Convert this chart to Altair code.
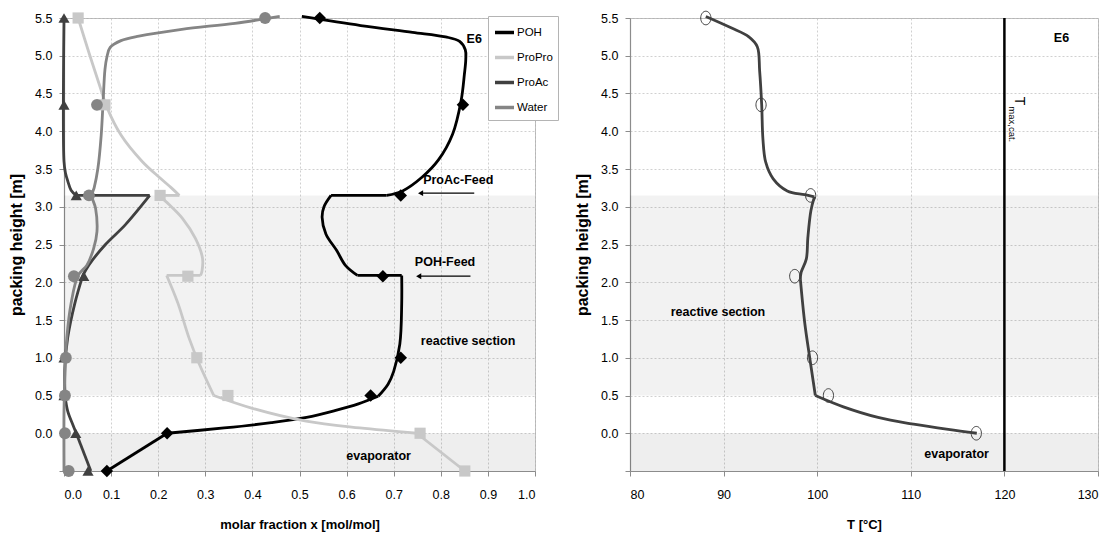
import altair as alt
import pandas as pd

# ------------------------------------------------------------------ data
SPECIES = ["POH", "ProPro", "ProAc", "Water"]
COLORS = ["#000000", "#c8c8c8", "#404040", "#858585"]
SHAPES = ["diamond", "square", "triangle-up", "circle"]
MSIZES = [155, 125, 125, 140]

# measured compositions (markers)
meas_h = [5.5, 4.35, 3.15, 2.08, 1.0, 0.5, 0.0, -0.5]
poh_meas = [0.543, 0.847, 0.715, 0.677, 0.715, 0.651, 0.219, 0.091]
propro_meas = [0.030, 0.087, 0.204, 0.263, 0.282, 0.348, 0.756, 0.851]
proac_meas = [0.0, 0.0, 0.026, 0.042, 0.0, 0.0, 0.025, 0.051]
water_meas = [0.427, 0.070, 0.053, 0.021, 0.004, 0.002, 0.002, 0.010]

# simulated profiles (segments)
poh_sim_x = [
    [0.505, 0.63, 0.74, 0.81, 0.84, 0.852, 0.853, 0.850, 0.843, 0.825, 0.795, 0.760, 0.719, 0.685],
    [0.685, 0.567],
    [0.567, 0.552, 0.548, 0.556, 0.579, 0.598, 0.623],
    [0.623, 0.717],
    [0.717, 0.717, 0.713, 0.700, 0.688, 0.667],
    [0.667, 0.625, 0.575, 0.515, 0.440, 0.340, 0.219],
    [0.219, 0.091],
]
poh_sim_h = [
    [5.52, 5.40, 5.31, 5.25, 5.19, 5.08, 4.95, 4.75, 4.40, 3.96, 3.62, 3.39, 3.21, 3.15],
    [3.15, 3.15],
    [3.15, 3.0, 2.86, 2.64, 2.42, 2.22, 2.09],
    [2.09, 2.09],
    [2.09, 1.72, 1.18, 0.82, 0.65, 0.49],
    [0.49, 0.39, 0.30, 0.21, 0.14, 0.07, 0.0],
    [0.0, -0.5],
]
propro_sim_x = [
    [0.030, 0.053, 0.076, 0.091, 0.121, 0.166, 0.204, 0.228, 0.245],
    [0.245, 0.201],
    [0.201, 0.223, 0.251, 0.279, 0.294, 0.293, 0.290],
    [0.290, 0.218],
    [0.218, 0.242, 0.265, 0.287, 0.318],
    [0.318, 0.400, 0.514, 0.628, 0.749],
    [0.749, 0.851],
]
propro_sim_h = [
    [5.5, 5.04, 4.6, 4.32, 3.95, 3.6, 3.38, 3.25, 3.15],
    [3.15, 3.15],
    [3.15, 3.03, 2.85, 2.58, 2.32, 2.15, 2.09],
    [2.09, 2.09],
    [2.09, 1.72, 1.27, 0.92, 0.50],
    [0.50, 0.33, 0.16, 0.07, 0.0],
    [0.0, -0.5],
]
proac_sim_x = [
    [0.0, 0.0, 0.003, 0.008, 0.015, 0.026],
    [0.026, 0.182],
    [0.182, 0.130, 0.088, 0.053, 0.040],
    [0.040, 0.023, 0.008, 0.002, 0.002],
    [0.002, 0.008, 0.019, 0.026],
    [0.026, 0.057],
]
proac_sim_h = [
    [5.5, 3.6, 3.45, 3.34, 3.22, 3.15],
    [3.15, 3.15],
    [3.15, 2.76, 2.5, 2.23, 2.09],
    [2.09, 1.72, 1.27, 0.9, 0.5],
    [0.5, 0.29, 0.11, 0.0],
    [0.0, -0.5],
]
water_sim_x = [
    [0.458, 0.363, 0.250, 0.159, 0.121, 0.098, 0.091, 0.087, 0.083, 0.079, 0.072, 0.064,
     0.059, 0.067, 0.070, 0.063, 0.049, 0.030, 0.015, 0.006, 0.002, 0.0, 0.0],
]
water_sim_h = [
    [5.52, 5.43, 5.35, 5.26, 5.20, 5.11, 4.98, 4.82, 4.39, 3.95, 3.51, 3.25,
     3.15, 2.98, 2.67, 2.45, 2.23, 2.09, 1.72, 1.27, 0.8, 0.3, -0.5],
]

# temperature profile
temp_meas_h = [5.5, 4.35, 3.15, 2.08, 1.0, 0.5, 0.0]
temp_meas = [88.1, 94.0, 99.3, 97.6, 99.5, 101.2, 117.0]
temp_sim_x = [
    [88.1, 90.8, 92.7, 93.6, 93.85, 94.07, 94.2, 94.5, 95.3, 96.8, 98.66, 99.7],
    [99.7, 99.33, 99.0, 98.84, 98.28, 98.2],
    [98.2, 98.66, 99.2, 99.8],
    [99.8, 102.8, 106.5, 110.3, 114.0, 117.05],
]
temp_sim_h = [
    [5.52, 5.37, 5.25, 5.12, 4.8, 4.35, 3.9, 3.59, 3.37, 3.21, 3.16, 3.13],
    [3.13, 2.95, 2.59, 2.31, 2.13, 2.04],
    [2.04, 1.47, 1.0, 0.5],
    [0.5, 0.35, 0.21, 0.12, 0.05, 0.0],
]
t_max_cat = 120

# shaded sections: reactive section and evaporator
shade_lo = [0.5, -0.5]
shade_hi = [3.15, 0.0]
shade_op = [0.052, 0.068]

# tick values
x_ticks = [0.0, 0.1, 0.2, 0.3, 0.4, 0.5, 0.6, 0.7, 0.8, 0.9, 1.0]
t_ticks = [80, 90, 100, 110, 120, 130]
h_ticks = [-0.5, 0.0, 0.5, 1.0, 1.5, 2.0, 2.5, 3.0, 3.5, 4.0, 4.5, 5.0, 5.5]

# annotations
left_text = ["E6", "ProAc-Feed", "POH-Feed", "reactive section", "evaporator"]
left_text_x = [0.871, 0.837, 0.809, 0.858, 0.668]
left_text_h = [5.22, 3.35, 2.27, 1.22, -0.30]
arrow_x_from = [0.871, 0.863]
arrow_x_to = [0.757, 0.753]
arrow_h = [3.18, 2.08]

right_text = ["E6", "reactive section", "evaporator"]
right_text_t = [126.1, 89.4, 114.9]
right_text_h = [5.23, 1.61, -0.27]

# ------------------------------------------------------------------ frames
def seg_rows(name, segs_x, segs_h):
    rows = []
    for si, (xs, hs) in enumerate(zip(segs_x, segs_h)):
        for i, (x, h) in enumerate(zip(xs, hs)):
            rows.append({"species": name, "seg": f"{name}-{si}", "i": i, "x": x, "h": h})
    return rows

sim_df = pd.DataFrame(
    seg_rows("POH", poh_sim_x, poh_sim_h)
    + seg_rows("ProPro", propro_sim_x, propro_sim_h)
    + seg_rows("ProAc", proac_sim_x, proac_sim_h)
    + seg_rows("Water", water_sim_x, water_sim_h)
)

meas_rows = []
for name, vals, col, shp, sz in zip(SPECIES, [poh_meas, propro_meas, proac_meas, water_meas],
                                    COLORS, SHAPES, MSIZES):
    for h, v in zip(meas_h, vals):
        meas_rows.append({"species": name, "x": v, "h": h, "mcolor": col, "mshape": shp, "msize": sz})
meas_df = pd.DataFrame(meas_rows)

shade_df = pd.DataFrame({"h": shade_lo, "h2": shade_hi, "op": shade_op,
                         "x": [0.0] * 2, "x2": [1.0] * 2,
                         "t": [80] * 2, "t2": [130] * 2})

ltext_df = pd.DataFrame({"label": left_text, "x": left_text_x, "h": left_text_h})
arrow_df = pd.DataFrame({"x": arrow_x_from, "x2": arrow_x_to, "h": arrow_h})

temp_sim_df = pd.DataFrame(seg_rows("T", temp_sim_x, temp_sim_h))
temp_meas_df = pd.DataFrame({"x": temp_meas, "h": temp_meas_h})
tmax_df = pd.DataFrame({"x": [t_max_cat], "h": [-0.5], "h2": [5.5]})
rtext_df = pd.DataFrame({"label": right_text, "x": right_text_t, "h": right_text_h})
tsym_df = pd.DataFrame({"x": [121.55], "h": [4.40], "label": ["T"]})
tsub_df = pd.DataFrame({"x": [120.8], "h": [4.33], "label": ["max,cat."]})

# ------------------------------------------------------------------ encodings
Y = alt.Y("h:Q", scale=alt.Scale(domain=[-0.5, 5.5], nice=False, zero=False),
          axis=alt.Axis(values=h_ticks, title="packing height [m]",
                        labelExpr="datum.value < -0.25 ? '' : format(datum.value, '.1f')"))
XL_SCALE = alt.Scale(domain=[0, 1], nice=False, zero=False)
XL_AXIS = alt.Axis(values=x_ticks, format=".1f", title="molar fraction x [mol/mol]")
XL = alt.X("x:Q", scale=XL_SCALE, axis=XL_AXIS)
XR_SCALE = alt.Scale(domain=[80, 130], nice=False, zero=False)
XR_AXIS = alt.Axis(values=t_ticks, format="d", title="T [°C]")
XR = alt.X("x:Q", scale=XR_SCALE, axis=XR_AXIS)

FONT = "Liberation Sans"

# ------------------------------------------------------------------ left panel
l_shade = alt.Chart(shade_df).mark_rect(color="#000000").encode(
    x=XL, x2="x2:Q", y=Y, y2="h2:Q", opacity=alt.Opacity("op:Q", scale=None))

l_lines = alt.Chart(sim_df).mark_line(interpolate="catmull-rom", strokeWidth=2.8).encode(
    x=XL, y=Y, detail="seg:N", order="i:Q",
    color=alt.Color("species:N", sort=SPECIES,
                    scale=alt.Scale(domain=SPECIES, range=COLORS),
                    legend=alt.Legend(title=None, orient="none", legendX=424, legendY=-2,
                                      direction="vertical", symbolType="stroke",
                                      symbolStrokeWidth=3.5, symbolSize=361,
                                      labelFont=FONT, labelFontSize=11.5, labelOffset=1,
                                      labelColor="#000000",
                                      rowPadding=6, padding=5, fillColor="#ffffff",
                                      strokeColor="#b4b4b4")))

l_marks = alt.Chart(meas_df).mark_point(filled=True, opacity=1, strokeWidth=0).encode(
    x=XL, y=Y,
    fill=alt.Fill("mcolor:N", scale=None),
    shape=alt.Shape("mshape:N", scale=None),
    size=alt.Size("msize:Q", scale=None))

l_text = alt.Chart(ltext_df).mark_text(font=FONT, fontWeight="bold", fontSize=12.5,
                                       align="center", baseline="middle", color="#000000").encode(
    x=XL, y=Y, text="label:N")

l_arrow = alt.Chart(arrow_df).mark_rule(color="#000000", strokeWidth=1.2).encode(
    x=XL, x2="x2:Q", y=Y)
l_head = alt.Chart(arrow_df).mark_point(shape="triangle-left", filled=True, color="#000000",
                                        size=35, opacity=1).encode(
    x=alt.X("x2:Q", scale=XL_SCALE, axis=XL_AXIS), y=Y)

left = alt.layer(l_shade, l_lines, l_marks, l_arrow, l_head, l_text).properties(
    width=471, height=453)

# ------------------------------------------------------------------ right panel
r_shade = alt.Chart(shade_df).mark_rect(color="#000000").encode(
    x=alt.X("t:Q", scale=XR_SCALE, axis=XR_AXIS),
    x2="t2:Q", y=Y, y2="h2:Q", opacity=alt.Opacity("op:Q", scale=None))

r_line = alt.Chart(temp_sim_df).mark_line(interpolate="catmull-rom", strokeWidth=2.8,
                                          color="#404040").encode(
    x=XR, y=Y, detail="seg:N", order="i:Q")

r_marks = alt.Chart(temp_meas_df).mark_point(
    shape="M-0.75,0A0.75,1 0 1,1 0.75,0A0.75,1 0 1,1 -0.75,0Z",
    filled=False, stroke="#404040", strokeWidth=1, size=185, opacity=1).encode(x=XR, y=Y)

r_tmax = alt.Chart(tmax_df).mark_rule(color="#000000", strokeWidth=2.5).encode(
    x=XR, y=Y, y2="h2:Q")

r_text = alt.Chart(rtext_df).mark_text(font=FONT, fontWeight="bold", fontSize=12.5,
                                       align="center", baseline="middle", color="#000000").encode(
    x=XR, y=Y, text="label:N")

r_tsym = alt.Chart(tsym_df).mark_text(font=FONT, fontSize=14, angle=90, align="center",
                                      baseline="middle", color="#000000").encode(
    x=XR, y=Y, text="label:N")
r_tsub = alt.Chart(tsub_df).mark_text(font=FONT, fontSize=9.5, angle=90, align="left",
                                      baseline="middle", color="#000000").encode(
    x=XR, y=Y, text="label:N")

right = alt.layer(r_shade, r_line, r_marks, r_tmax, r_text, r_tsym, r_tsub).properties(
    width=468, height=453)

# ------------------------------------------------------------------ compose
chart = (
    alt.hconcat(left, right, spacing=95, bounds="flush")
    .properties(padding={"left": 8, "top": 8, "right": 5, "bottom": 3})
    .configure(font=FONT)
    .configure_view(stroke="#b4b4b4", strokeWidth=1)
    .configure_axis(
        grid=True, gridColor="#c4c4c4", gridDash=[2, 2], gridWidth=0.8,
        domainColor="#8c8c8c", domainWidth=1.2, tickColor="#8c8c8c", tickSize=5,
        labelFont=FONT, labelFontSize=12.5, labelColor="#000000",
        titleFont=FONT, titleFontWeight="bold", titleColor="#000000", titleFontSize=13,
    )
    .configure_axisX(labelPadding=12, titlePadding=18)
    .configure_axisY(labelPadding=7, titlePadding=10, titleFontSize=16)
)

chart.save("out.html", embed_options={"renderer": "svg", "actions": False})
